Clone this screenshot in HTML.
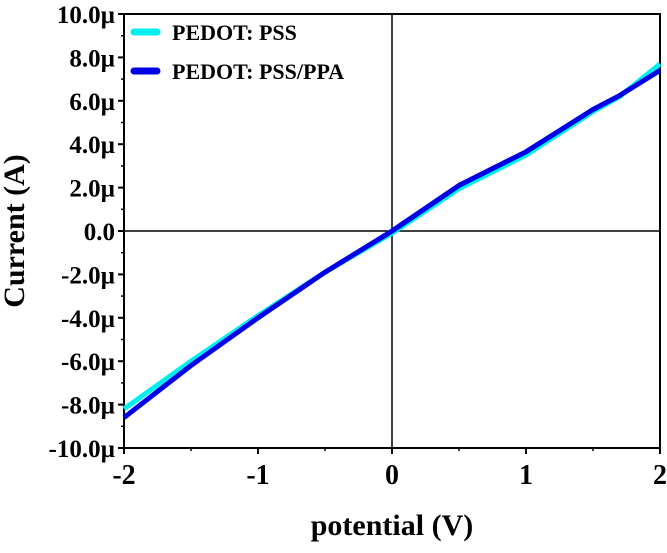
<!DOCTYPE html>
<html><head><meta charset="utf-8"><style>
body{margin:0;background:#fff;width:667px;height:548px;overflow:hidden}
text{font-family:"Liberation Serif",serif;font-weight:bold;fill:#000}
</style></head><body>
<svg id="chart" width="667" height="548" xmlns="http://www.w3.org/2000/svg"></svg>
<script>
const xTicks=[-2,-1,0,1,2];
const yTicks=[-10,-8,-6,-4,-2,0,2,4,6,8,10];
const yTickLabels=["-10.0µ","-8.0µ","-6.0µ","-4.0µ","-2.0µ","0.0","2.0µ","4.0µ","6.0µ","8.0µ","10.0µ"];
const voltages=[-2,-1.5,-1,-0.5,0,0.5,1,1.5,1.7,2];
const pssCurrent=[-8.2,-6.0,-3.9,-1.9,-0.1,1.95,3.5,5.5,6.2,7.7];
const ppaCurrent=[-8.6,-6.2,-4.0,-1.9,0.0,2.1,3.65,5.6,6.25,7.4];
const seriesNames=["PEDOT: PSS","PEDOT: PSS/PPA"];
const L=124,R=660,T=14,B=448;
const sx=v=>L+(v+2)/4*(R-L);
const sy=v=>B-(v+10)/20*(B-T);
const svg=document.getElementById('chart');
const NS="http://www.w3.org/2000/svg";
function mk(tag,attrs,parent){const e=document.createElementNS(NS,tag);for(const k in attrs)e.setAttribute(k,attrs[k]);(parent||svg).appendChild(e);return e;}
// frame
let e=mk('rect',{x:L,y:T,width:R-L,height:B-T,fill:'none',stroke:'#000','stroke-width':2});


e=mk('line',{x1:sx(0),x2:sx(0),y1:T,y2:B,stroke:'#000','stroke-width':1.5});


e=mk('line',{x1:L,x2:R,y1:sy(0),y2:sy(0),stroke:'#000','stroke-width':1.5});


// x ticks
xTicks.forEach((v,i)=>{
 let t=mk('line',{x1:sx(v),x2:sx(v),y1:B,y2:B+6,stroke:'#000','stroke-width':2});
 
 
 if(i<xTicks.length-1){let m=mk('line',{x1:sx(v+0.5),x2:sx(v+0.5),y1:B,y2:B+3,stroke:'#000','stroke-width':1.5});
 
 }
 let lb=mk('text',{x:sx(v),y:B+36,'text-anchor':'middle','font-size':28});
 lb.textContent=String(v);
 
 
});
yTicks.forEach((v,i)=>{
 let t=mk('line',{x1:L-6,x2:L,y1:sy(v),y2:sy(v),stroke:'#000','stroke-width':2});
 
 
 if(i<yTicks.length-1){let m=mk('line',{x1:L-3,x2:L,y1:sy(v+1),y2:sy(v+1),stroke:'#000','stroke-width':1.5});
 
 }
 let lb=mk('text',{x:L-9,y:sy(v)+9,'text-anchor':'end','font-size':25});
 lb.textContent=yTickLabels[i];
 
 
});
// series
function series(vals,color,name){
 const d=voltages.map((v,i)=>(i?'L':'M')+sx(v).toFixed(1)+','+sy(vals[i]).toFixed(1)).join(' ');
 let p=mk('path',{d:d,fill:'none',stroke:color,'stroke-width':5,'stroke-linejoin':'round'});
 
 
}
series(pssCurrent,'#00f0f0','series-pedot-pss');
series(ppaCurrent,'#0000e6','series-pedot-pss-ppa');
// legend
const legColors=['#00f0f0','#0000e6'];
seriesNames.forEach((n,i)=>{
 const y=32+i*39;
 let s=mk('line',{x1:134,x2:157,y1:y,y2:y,stroke:legColors[i],'stroke-width':7,'stroke-linecap':'round'});
 
 
 let t=mk('text',{x:172,y:y+8,'font-size':22});
 t.textContent=n;
 
 
});
// axis titles
let xt=mk('text',{x:sx(0),y:535,'text-anchor':'middle','font-size':30});
xt.textContent='potential (V)';


let yt=mk('text',{x:0,y:0,'text-anchor':'middle','font-size':30,transform:'translate(24,'+sy(0)+') rotate(-90)'});
yt.textContent='Current (A)';


</script>
</body></html>
